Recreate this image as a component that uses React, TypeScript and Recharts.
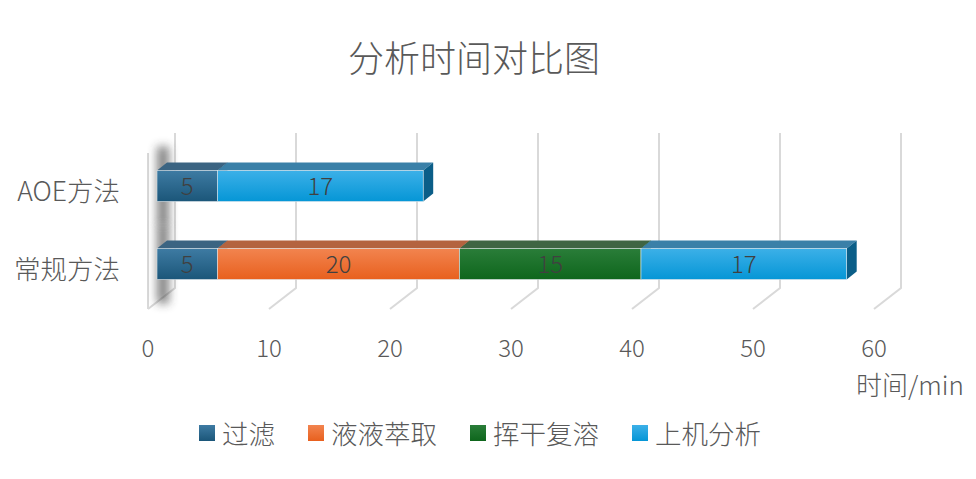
import React from 'react';
import { BarChart, Bar, XAxis, YAxis, CartesianGrid, Legend, LabelList } from 'recharts';

// categories (top to bottom) and stacked segment values in minutes
const categories = ['AOE方法', '常规方法'];
const filterTimes = [5, 5];
const extractTimes = [0, 20];
const redissolveTimes = [0, 15];
const analysisTimes = [17, 17];
const seriesNames = ['过滤', '液液萃取', '挥干复溶', '上机分析'];
const xTicks = [0, 10, 20, 30, 40, 50, 60];

const FONT = '"Noto Sans CJK SC", "Noto Sans", sans-serif';
const W = 976;
const H = 479;
const PLOT_LEFT = 157;
const PLOT_RIGHT = 883;
const PLOT_TOP = 146.5;
const PLOT_BOTTOM = 302.5;
const X_AXIS_H = 60;

const data = categories.map((name, i) => ({
  name,
  filter: filterTimes[i],
  extract: extractTimes[i],
  redissolve: redissolveTimes[i],
  analysis: analysisTimes[i],
}));

const keys = ['filter', 'extract', 'redissolve', 'analysis'];

// face colours for each series
const styles = [
  { id: 'g0', light: '#3e7ba3', dark: '#1b5679', top: '#3b6482', side: '#154a6a' },
  { id: 'g1', light: '#f2844f', dark: '#e8601e', top: '#b4633f', side: '#b84a14' },
  { id: 'g2', light: '#2a7d39', dark: '#0e661c', top: '#3f6543', side: '#0b4e15' },
  { id: 'g3', light: '#3cb0e8', dark: '#0596d6', top: '#3a80a8', side: '#0b5e88' },
];

const DX = 10;
const DY = 8;

const Box3D = (props: any) => {
  const { x, y, width, height, s, first } = props;
  if (!width || width <= 0) return null;
  const r = x + width;
  return (
    <g>
      {first && (
        <rect x={157} y={y - 24} width={12} height={height + 48} fill="#333" opacity={0.6} filter="url(#wallBlur)" />
      )}
      <polygon
        points={`${x},${y} ${x + DX},${y - DY} ${r + DX},${y - DY} ${r},${y}`}
        fill={s.top}
      />
      <polygon
        points={`${r},${y} ${r + DX},${y - DY} ${r + DX},${y + height - DY} ${r},${y + height}`}
        fill={s.side}
      />
      <rect x={x} y={y} width={width} height={height} fill={`url(#${s.id})`} stroke="#dfe7ec" strokeWidth={0.6} />
    </g>
  );
};

const gridLine = (props: any) => {
  const { x1, y1, y2, index } = props;
  const top = y1 - 13.5;
  const backBottom = y2 - 14.5;
  const frontBottom = y2 + 6.5;
  const bx = x1 + 18;
  const fx = x1 - 9;
  const isWall = Math.abs(x1 - PLOT_LEFT) < 1;
  return (
    <g key={`v-${index}`}>
      <polyline
        points={`${bx},${top} ${bx},${backBottom} ${fx},${frontBottom}`}
        fill="none"
        stroke="#d9d9d9"
        strokeWidth={2}
      />
      {isWall && (
        <line x1={fx} y1={top + 20} x2={fx} y2={frontBottom} stroke="#d9d9d9" strokeWidth={2} />
      )}
    </g>
  );
};

const XTick = (props: any) => {
  const { x, payload } = props;
  return (
    <text x={x - 9} y={346} textAnchor="middle" dominantBaseline="central" fill="#595959" fontSize={24} fontFamily={FONT} fontWeight={300}>
      {payload.value}
    </text>
  );
};

const YTick = (props: any) => {
  const { y, payload } = props;
  return (
    <text x={120} y={y + 4} textAnchor="end" dominantBaseline="central" fill="#595959" fontSize={26.5} fontFamily={FONT} fontWeight={300}>
      {payload.value}
    </text>
  );
};

const UnitLabel = () => (
  <text x={910} y={383} textAnchor="middle" dominantBaseline="central" fill="#595959" fontSize={26} fontFamily={FONT} fontWeight={300}>
    时间/min
  </text>
);

const renderLegend = () => (
  <div style={{ display: 'flex', alignItems: 'center', gap: 33, fontFamily: FONT, fontWeight: 300 }}>
    {seriesNames.map((n, i) => (
      <div key={n} style={{ display: 'flex', alignItems: 'center', gap: 7 }}>
        <span
          style={{
            width: 16,
            height: 16,
            display: 'inline-block',
            background: `linear-gradient(${styles[i].light}, ${styles[i].dark})`,
          }}
        />
        <span style={{ fontSize: 26.5, color: '#595959', lineHeight: '30px' }}>{n}</span>
      </div>
    ))}
  </div>
);

export default function App() {
  return (
    <div style={{ position: 'absolute', left: 0, top: 0, width: W, height: H, background: '#fff' }}>
      <div
        style={{
          position: 'absolute',
          left: 0,
          top: 35,
          width: 948,
          textAlign: 'center',
          fontFamily: FONT,
          fontWeight: 300,
          fontSize: 36,
          color: '#595959',
          lineHeight: '42px',
        }}
      >
        分析时间对比图
      </div>
      <BarChart
        width={W}
        height={H}
        data={data}
        layout="vertical"
        margin={{ top: PLOT_TOP, right: W - PLOT_RIGHT, bottom: H - PLOT_BOTTOM - X_AXIS_H, left: 0 }}
        barSize={31}
      >
        <defs>
          {styles.map((s) => (
            <linearGradient key={s.id} id={s.id} x1="0" y1="0" x2="0" y2="1">
              <stop offset="0%" stopColor={s.light} />
              <stop offset="100%" stopColor={s.dark} />
            </linearGradient>
          ))}
          <filter id="wallBlur" x="-200%" y="-50%" width="500%" height="200%">
            <feGaussianBlur stdDeviation="5" />
          </filter>
        </defs>
        <CartesianGrid horizontal={false} vertical={gridLine} syncWithTicks />
        <XAxis
          type="number"
          domain={[0, 60]}
          ticks={xTicks}
          height={X_AXIS_H}
          axisLine={false}
          tickLine={false}
          tick={<XTick />}
          label={<UnitLabel />}
        />
        <YAxis type="category" dataKey="name" width={PLOT_LEFT} axisLine={false} tickLine={false} tick={<YTick />} />
        <Legend
          verticalAlign="middle"
          align="center"
          content={renderLegend}
          wrapperStyle={{ top: 418, left: 199, width: 620 }}
        />
        {keys.map((k, i) => (
          <Bar
            key={k}
            dataKey={k}
            name={seriesNames[i]}
            stackId="t"
            isAnimationActive={false}
            shape={(p: any) => <Box3D {...p} s={styles[i]} first={i === 0} />}
          >
            <LabelList
              dataKey={k}
              position="center"
              fill="#404040"
              fontSize={24}
              fontFamily={FONT}
              fontWeight={300}
              formatter={(v: any) => (v ? v : '')}
            />
          </Bar>
        ))}
      </BarChart>
    </div>
  );
}
